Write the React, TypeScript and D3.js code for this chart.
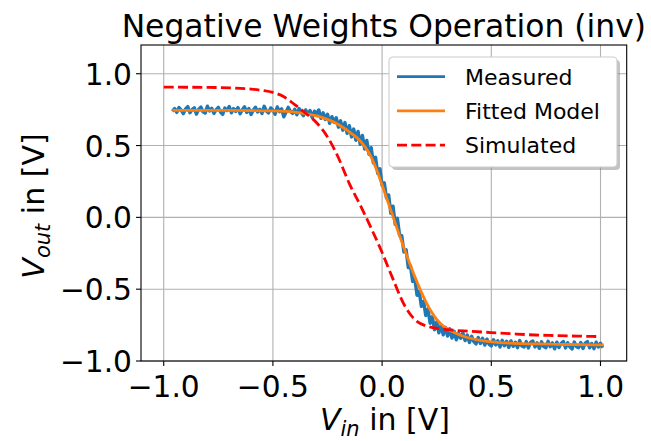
import { useEffect, useRef } from "react";
import * as d3 from "d3";

const X_TICKS = [-1.0, -0.5, 0.0, 0.5, 1.0];
const Y_TICKS = [-1.0, -0.5, 0.0, 0.5, 1.0];

// measured sweep: Vin from -0.96 V to 1.01 V in 10 mV steps
const MEAS_VIN_START = -0.96;
const MEAS_VIN_STEP = 0.01;
const MEAS_VOUT = [
  0.738, 0.758, 0.731, 0.765, 0.747, 0.722, 0.755, 0.771, 0.729, 0.75,
  0.762, 0.719, 0.752, 0.768, 0.735, 0.726, 0.774, 0.741, 0.759, 0.724,
  0.75, 0.766, 0.733, 0.717, 0.761, 0.744, 0.772, 0.728, 0.757, 0.737,
  0.764, 0.721, 0.749, 0.77, 0.73, 0.758, 0.716, 0.746, 0.767, 0.734,
  0.753, 0.723, 0.773, 0.74, 0.727, 0.762, 0.748, 0.718, 0.769, 0.736,
  0.755, 0.7, 0.732, 0.766, 0.739, 0.724,
  0.752, 0.714, 0.758, 0.729, 0.708, 0.748, 0.716, 0.744, 0.695, 0.739,
  0.722, 0.748, 0.69, 0.728, 0.682, 0.718, 0.655, 0.701, 0.662, 0.694,
  0.628, 0.672, 0.607, 0.66, 0.585, 0.638, 0.56, 0.615, 0.537, 0.598,
  0.508, 0.57, 0.476, 0.535, 0.44, 0.485, 0.378, 0.418, 0.305, 0.338,
  0.222, 0.241, 0.135, 0.156, 0.028, 0.078, -0.048, -0.006, -0.124, -0.128,
  -0.242, -0.226, -0.35, -0.338, -0.446, -0.425, -0.543, -0.516, -0.62, -0.584,
  -0.683, -0.638, -0.737, -0.692, -0.782, -0.728, -0.804, -0.75, -0.818, -0.766,
  -0.826, -0.776, -0.84, -0.793, -0.852, -0.807,
  -0.842, -0.805, -0.858, -0.819, -0.871, -0.828, -0.865, -0.881, -0.836, -0.878,
  -0.842, -0.889, -0.848, -0.884, -0.895, -0.852, -0.888, -0.859, -0.903, -0.856,
  -0.894, -0.862, -0.905, -0.86, -0.898, -0.869, -0.907, -0.858, -0.896, -0.903,
  -0.865, -0.909, -0.871, -0.861, -0.902, -0.874, -0.912, -0.866, -0.899, -0.907,
  -0.863, -0.901, -0.874, -0.915, -0.869, -0.906, -0.877, -0.864, -0.909, -0.873,
  -0.903, -0.916, -0.868, -0.9, -0.907, -0.871, -0.913, -0.876, -0.865, -0.908,
  -0.879, -0.914, -0.869, -0.903, -0.876, -0.908,
];

const FIT_VIN = [
  -0.96, -0.7, -0.5, -0.4, -0.35, -0.3, -0.25, -0.2, -0.15, -0.125, -0.1, -0.075,
  -0.05, -0.025, 0.0, 0.025, 0.05, 0.075, 0.1, 0.125, 0.15, 0.175, 0.2, 0.225,
  0.25, 0.275, 0.3, 0.34, 0.38, 0.45, 0.5, 0.6, 0.7, 0.8, 0.9, 1.015,
];
const FIT_VOUT = [
  0.745, 0.745, 0.741, 0.733, 0.722, 0.706, 0.682, 0.646, 0.595, 0.567, 0.532, 0.484,
  0.42, 0.331, 0.225, 0.115, 0.005, -0.106, -0.212, -0.316, -0.414, -0.505, -0.586, -0.656,
  -0.711, -0.75, -0.777, -0.808, -0.831, -0.856, -0.867, -0.877, -0.881, -0.884, -0.886, -0.888,
];

const SIM_VIN = [
  -1.0, -0.9, -0.8, -0.7, -0.6, -0.55, -0.5, -0.45, -0.4, -0.35, -0.3, -0.25, -0.2,
  -0.15, -0.1, -0.05, 0.0, 0.05, 0.1, 0.15, 0.2, 0.25, 0.3, 0.4, 0.5, 0.6, 0.7, 0.8,
  0.9, 1.0,
];
const SIM_VOUT = [
  0.907, 0.906, 0.905, 0.902, 0.893, 0.884, 0.87, 0.84, 0.785, 0.725, 0.659, 0.56, 0.415,
  0.235, 0.085, -0.075, -0.245, -0.43, -0.605, -0.712, -0.755, -0.772, -0.782, -0.793,
  -0.802, -0.811, -0.819, -0.823, -0.827, -0.83,
];

const LEGEND = [
  { label: "Measured", color: "#1f77b4", dash: null },
  { label: "Fitted Model", color: "#ff7f0e", dash: null },
  { label: "Simulated", color: "#ff0000", dash: "10,4.3" },
];

const FONT = "DejaVu Sans, sans-serif";

function TransferChart() {
  const ref = useRef<SVGSVGElement>(null);

  useEffect(() => {
    const svg = d3.select(ref.current);
    svg.selectAll("*").remove();

    const width = 651;
    const height = 441;
    const margin = { top: 45, right: 24.3, bottom: 80, left: 141 };

    const x = d3
      .scaleLinear()
      .domain([-1.104, 1.12])
      .range([margin.left, width - margin.right]);
    const y = d3
      .scaleLinear()
      .domain([-1.0, 1.2])
      .range([height - margin.bottom, margin.top]);

    const fmt = d3.format(".1f");

    // grid
    const grid = svg.append("g").attr("stroke", "#b0b0b0").attr("stroke-width", 1.1);
    grid
      .selectAll("line.gx")
      .data(X_TICKS)
      .join("line")
      .attr("x1", (d) => x(d))
      .attr("x2", (d) => x(d))
      .attr("y1", y(1.2))
      .attr("y2", y(-1.0));
    grid
      .selectAll("line.gy")
      .data(Y_TICKS)
      .join("line")
      .attr("class", "gy")
      .attr("x1", x(-1.104))
      .attr("x2", x(1.12))
      .attr("y1", (d) => y(d))
      .attr("y2", (d) => y(d));

    const measured = MEAS_VOUT.map((v, i) => [MEAS_VIN_START + i * MEAS_VIN_STEP, v]);
    const fitted = FIT_VIN.map((v, i) => [v, FIT_VOUT[i]]);
    const simulated = SIM_VIN.map((v, i) => [v, SIM_VOUT[i]]);

    const line = d3
      .line<number[]>()
      .x((d) => x(d[0]))
      .y((d) => y(d[1]));
    const smooth = d3
      .line<number[]>()
      .curve(d3.curveMonotoneX)
      .x((d) => x(d[0]))
      .y((d) => y(d[1]));

    svg
      .append("path")
      .datum(measured)
      .attr("fill", "none")
      .attr("stroke", "#1f77b4")
      .attr("stroke-width", 3.4)
      .attr("stroke-linejoin", "round")
      .attr("d", line);

    svg
      .append("path")
      .datum(fitted)
      .attr("fill", "none")
      .attr("stroke", "#ff7f0e")
      .attr("stroke-width", 2.8)
      .attr("d", smooth);

    svg
      .append("path")
      .datum(simulated)
      .attr("fill", "none")
      .attr("stroke", "#ff0000")
      .attr("stroke-width", 2.8)
      .attr("stroke-dasharray", "10,4.3")
      .attr("d", smooth);

    // spines
    svg
      .append("rect")
      .attr("x", margin.left)
      .attr("y", margin.top)
      .attr("width", width - margin.left - margin.right)
      .attr("height", height - margin.top - margin.bottom)
      .attr("fill", "none")
      .attr("stroke", "#000")
      .attr("stroke-width", 1.1);

    // x ticks
    const xt = svg
      .append("g")
      .selectAll("g")
      .data(X_TICKS)
      .join("g")
      .attr("transform", (d) => `translate(${x(d)},${y(-1.0)})`);
    xt.append("line").attr("y2", 5).attr("stroke", "#000").attr("stroke-width", 1.1);
    xt.append("text")
      .attr("y", 35.5)
      .attr("text-anchor", "middle")
      .attr("font-family", FONT)
      .attr("font-size", 29.7)
      .text((d) => fmt(d));

    // y ticks
    const yt = svg
      .append("g")
      .selectAll("g")
      .data(Y_TICKS)
      .join("g")
      .attr("transform", (d) => `translate(${margin.left},${y(d)})`);
    yt.append("line").attr("x2", -5).attr("stroke", "#000").attr("stroke-width", 1.1);
    yt.append("text")
      .attr("x", -9)
      .attr("y", 11)
      .attr("text-anchor", "end")
      .attr("font-family", FONT)
      .attr("font-size", 29.7)
      .text((d) => fmt(d));

    // title
    svg
      .append("text")
      .attr("x", (margin.left + width - margin.right) / 2)
      .attr("y", 37)
      .attr("text-anchor", "middle")
      .attr("font-family", FONT)
      .attr("font-size", 31.4)
      .text("Negative Weights Operation (inv)");

    // x label
    const xl = svg
      .append("text")
      .attr("x", 385)
      .attr("y", 430)
      .attr("text-anchor", "middle")
      .attr("font-family", FONT)
      .attr("font-size", 30);
    xl.append("tspan").attr("font-style", "italic").text("V");
    xl.append("tspan")
      .attr("font-style", "italic")
      .attr("font-size", 21)
      .attr("dy", 6)
      .text("in");
    xl.append("tspan").attr("dy", -6).text(" in [V]");

    // y label
    const yl = svg
      .append("text")
      .attr("transform", `translate(44,${(margin.top + height - margin.bottom) / 2 + 3}) rotate(-90)`)
      .attr("text-anchor", "middle")
      .attr("font-family", FONT)
      .attr("font-size", 30);
    yl.append("tspan").attr("font-style", "italic").text("V");
    yl.append("tspan")
      .attr("font-style", "italic")
      .attr("font-size", 21)
      .attr("dy", 6)
      .text("out");
    yl.append("tspan").attr("dy", -6).text(" in [V]");

    // legend
    const lg = svg.append("g").attr("transform", "translate(389,57)");
    lg.append("rect")
      .attr("x", 3)
      .attr("y", 3)
      .attr("width", 228)
      .attr("height", 110)
      .attr("rx", 4)
      .attr("fill", "#888")
      .attr("opacity", 0.5);
    lg.append("rect")
      .attr("width", 228)
      .attr("height", 110)
      .attr("rx", 4)
      .attr("fill", "#fff")
      .attr("stroke", "#cccccc")
      .attr("stroke-width", 1.1);
    const rows = lg
      .selectAll("g.row")
      .data(LEGEND)
      .join("g")
      .attr("transform", (_d, i) => `translate(0,${19.7 + i * 34.2})`);
    rows
      .append("line")
      .attr("x1", 8)
      .attr("x2", 56)
      .attr("stroke", (d) => d.color)
      .attr("stroke-width", 2.8)
      .attr("stroke-dasharray", (d) => d.dash);
    rows
      .append("text")
      .attr("x", 76)
      .attr("y", 8.3)
      .attr("font-family", FONT)
      .attr("font-size", 22)
      .text((d) => d.label);
  }, []);

  return (
    <svg
      ref={ref}
      width={651}
      height={441}
      style={{ position: "absolute", left: 0, top: 0, background: "#fff" }}
    />
  );
}

export default function App() {
  return <TransferChart />;
}
